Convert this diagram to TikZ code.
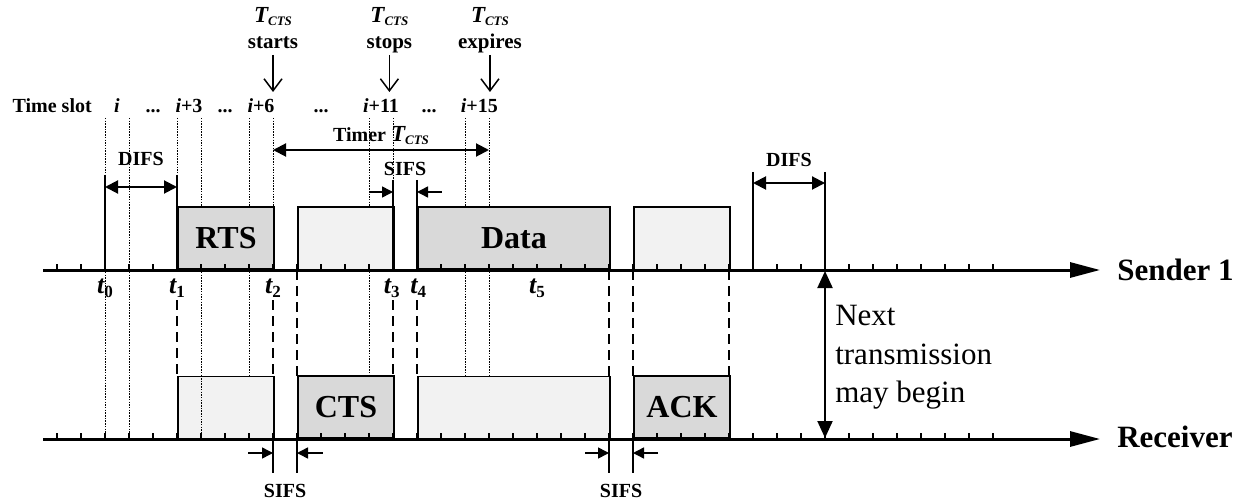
\documentclass[tikz,border=0pt]{standalone}
\usepackage{fontspec}
\setmainfont{Liberation Serif}
\usetikzlibrary{arrows.meta, positioning}
\definecolor{pktDark}{HTML}{D9D9D9}
\definecolor{pktLight}{HTML}{F2F2F2}
\newcommand{\Tcts}{{\fontsize{23}{23}\selectfont\itshape T}\raisebox{-3pt}{\fontsize{13}{13}\selectfont\itshape CTS}}
\newcommand{\tsub}[1]{t\raisebox{-4pt}{\fontsize{17}{17}\selectfont\upshape #1}}
\newcommand{\slotdots}{...}
\begin{document}
\begin{tikzpicture}[
    x=24pt, y=-1pt,
    axis/.style={line width=3pt, -{Triangle[length=30pt,width=15pt]}},
    slotline/.style={line width=0.8pt, dash pattern=on 1.5pt off 1.2pt},
    guide/.style={line width=2pt, dash pattern=on 10pt off 6pt},
    solidmark/.style={line width=2pt},
    pkt/.style={draw, line width=2pt, anchor=south west, minimum height=62pt,
                inner sep=0pt, font=\fontsize{32}{32}\selectfont\bfseries},
    darkpkt/.style={fill=pktDark},
    lightpkt/.style={fill=pktLight, line width=1.5pt},
    dur/.style={line width=2pt, {Triangle[length=13pt,width=13pt]}-{Triangle[length=13pt,width=13pt]}},
    sifsarrow/.style={line width=1.5pt, -{Triangle[length=11pt,width=11pt]}},
    evtarrow/.style={line width=1.5pt, -{Straight Barb[length=12pt,width=18pt]}},
    lbl/.style={font=\fontsize{20}{26}\selectfont\bfseries, inner sep=0pt, anchor=base},
    tlbl/.style={font=\fontsize{26}{26}\selectfont\bfseries\itshape, inner sep=0pt, anchor=base}
  ]
    \useasboundingbox (-4.375,0) rectangle (47.583,502);

    % slot boundaries
    \foreach \k in {0,1,4,11,15,16}
      \draw[slotline] (\k,118) -- (\k,439);
    \draw[slotline] (3,118) -- (3,175);
    \draw[slotline] (6,118) -- (6,378);
    \draw[slotline] (7,118) -- (7,208);
    \draw[slotline] (12,118) -- (12,180);

    % guides between sender and receiver
    \foreach \k in {3,7,12,13}
      \draw[guide] (\k,300) -- (\k,378);
    \foreach \k in {8,21,22,26}
      \draw[guide] (\k,270) -- (\k,378);

    % frames
    \node[pkt, darkpkt, minimum width=96pt] (rts) at (3,270) {RTS};
    \node[pkt, lightpkt, minimum width=96pt] (ctsin) at (8,270) {};
    \node[pkt, darkpkt, minimum width=192pt] (data) at (13,270) {Data};
    \node[pkt, lightpkt, minimum width=96pt] (ackin) at (22,270) {};
    \node[pkt, lightpkt, minimum width=96pt] (rtsin) at (3,439) {};
    \node[pkt, darkpkt, minimum width=96pt] (cts) at (8,439) {CTS};
    \node[pkt, lightpkt, minimum width=192pt] (datain) at (13,439) {};
    \node[pkt, darkpkt, minimum width=96pt] (ack) at (22,439) {ACK};
    \draw[slotline] (4,378) -- (4,439);

    % time axes
    \draw[axis] (-2.58,270) -- (41.46,270);
    \draw[axis] (-2.58,439) -- (41.46,439);
    \foreach \k in {-2,...,37} {
      \draw[line width=1.5pt] (\k,270) -- (\k,264);
      \draw[line width=1.5pt] (\k,439) -- (\k,433);
    }
    \node[anchor=base west, inner sep=0pt, font=\fontsize{31}{31}\selectfont\bfseries] (sender) at (42.17,280) {Sender 1};
    \node[anchor=base west, inner sep=0pt, font=\fontsize{31}{31}\selectfont\bfseries] (receiver) at (42.17,447) {Receiver};

    % interframe spaces
    \foreach \k/\top in {0/175,3/175,27/172,30/172,12/180,13/180}
      \draw[solidmark] (\k,\top) -- (\k,270);
    \foreach \k in {7,8,21,22}
      \draw[solidmark] (\k,439) -- (\k,473);
    \draw[dur] (0,187) -- (3,187);
    \node[lbl] (difsa) at (1.5,166) {DIFS};
    \draw[dur] (27,183) -- (30,183);
    \node[lbl] (difsb) at (28.5,167) {DIFS};
    \draw[sifsarrow] (11,192) -- (12,192);
    \draw[sifsarrow] (14.04,192) -- (13,192);
    \node[lbl] (sifsa) at (12.5,176) {SIFS};
    \draw[sifsarrow] (5.96,453) -- (7,453);
    \draw[sifsarrow] (9.08,453) -- (8,453);
    \node[lbl] (sifsb) at (7.5,497) {SIFS};
    \draw[sifsarrow] (20,453) -- (21,453);
    \draw[sifsarrow] (23.05,453) -- (22,453);
    \node[lbl] (sifsc) at (21.5,497) {SIFS};

    % CTS timer
    \draw[dur] (7,150) -- (16,150);
    \node[lbl] (timer) at (11.5,142) {Timer \Tcts};
    \foreach \k/\name/\txt in {7/tstart/starts, 11.85/tstop/stops, 16.04/texpire/expires} {
      \node[lbl, anchor=north, align=center, font=\fontsize{21}{26}\selectfont\bfseries] (\name) at (\k,7) {\Tcts\\\txt};
      \draw[evtarrow] (\k,55) -- (\k,92);
    }

    % slot numbers and instants
    \node[lbl] (tslot) at (-2.2,113) {Time slot};
    \foreach \k/\txt [count=\n] in {0.5/\textit{i}, 2/\slotdots, 3.5/\textit{i}+3, 5/\slotdots, 6.5/\textit{i}+6,
                                    9/\slotdots, 11.5/\textit{i}+11, 13.5/\slotdots, 15.6/\textit{i}+15}
      \node[lbl] (slot\n) at (\k,113) {\txt};
    \foreach \k/\n in {0/0, 3/1, 7/2, 11.95/3, 13.05/4, 18/5}
      \node[tlbl] (t\n) at (\k,293) {\tsub{\n}};

    % next transmission
    \draw[line width=2pt, {Triangle[length=17pt,width=15pt]}-{Triangle[length=17pt,width=15pt]}] (30,271) -- (30,438);
    \node[anchor=north west, align=left, inner sep=0pt, font=\fontsize{31}{38.5}\selectfont] (next) at (30.42,305) {Next\\transmission\\may begin};
  \end{tikzpicture}
\end{document}
